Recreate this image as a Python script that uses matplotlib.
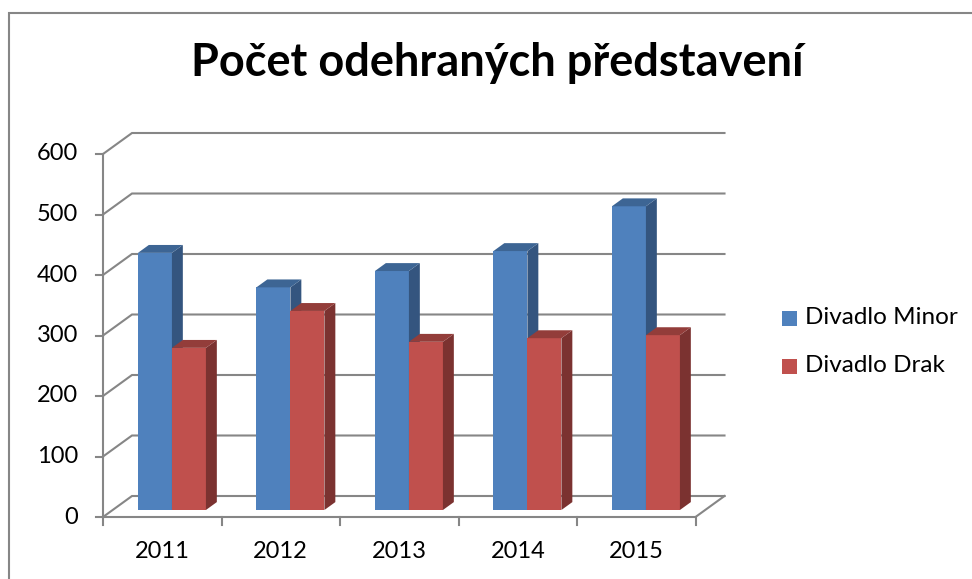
import matplotlib
matplotlib.use("Agg")
import matplotlib.pyplot as plt
from matplotlib.patches import Polygon, Rectangle

title = "Počet odehraných představení"
years = ["2011", "2012", "2013", "2014", "2015"]
series_names = ["Divadlo Minor", "Divadlo Drak"]
minor = [425, 368, 395, 428, 502]
drak = [268, 329, 278, 284, 289]
yticks = [0, 100, 200, 300, 400, 500, 600]

front_cols = ["#4F81BD", "#C0504D"]
side_cols = ["#34557F", "#7B3230"]
top_cols = ["#3D6594", "#933D3A"]
grid_col = "#868686"

W, H = 972, 579
fig = plt.figure(figsize=(W / 100, H / 100), dpi=100)
plt.rcParams['font.family'] = ['Lato', 'DejaVu Sans']

# pixel geometry of plot area
px0, pcat = 103.0, 118.5      # x pixel of category 0, pixels per category
py0, pval = 517.0, 0.605      # y pixel of value 0, pixels per unit
ax_l, ax_r, ax_t, ax_b = 40, 780, 90, 560
ax = fig.add_axes([ax_l / W, 1 - ax_b / H, (ax_r - ax_l) / W, (ax_b - ax_t) / H])
ax.set_xlim((ax_l - px0) / pcat, (ax_r - px0) / pcat)
ax.set_ylim((py0 - ax_b) / pval, (py0 - ax_t) / pval)
ax.axis("off")

DX = 29 / pcat          # depth offset in category units
DY = 21 / pval          # depth offset in value units
n = len(years)
lw = 1.5
fs = 17

# walls / gridlines
for v in yticks:
    ax.plot([0, DX, n + DX], [v, v + DY, v + DY], color=grid_col, lw=lw,
            solid_joinstyle="miter", zorder=1)
    ax.plot([-7 / pcat, 0], [v, v], color=grid_col, lw=lw, zorder=1)
    ax.text((78 - px0) / pcat, v, str(v), ha="right", va="center",
            fontsize=fs, color="black")
# floor front & right edge
ax.plot([0, n, n + DX], [0, 0, DY], color=grid_col, lw=lw, zorder=1)
ax.plot([0, 0], [0, yticks[-1]], color=grid_col, lw=lw, zorder=1)
for k in range(n + 1):
    ax.plot([k, k], [0, -8 / pval], color=grid_col, lw=lw, zorder=1)
for k, y in enumerate(years):
    ax.text(k + 0.5, -34 / pval, y, ha="center", va="center", fontsize=fs)

# bars
d0, d1 = 1 / 3, 0.71
w = 34 / pcat
dd = d1 - d0
for k in range(n):
    c = k + 0.5 + d0 * DX
    for s, vals in enumerate([minor, drak]):
        v = vals[k]
        xl = c - w + s * w
        xr = xl + w
        b = d0 * DY
        t = v + d0 * DY
        ax.bar(xl, v, width=w, bottom=b, align="edge", color=front_cols[s],
               edgecolor="none", zorder=3)
        ax.add_patch(Polygon([(xr, b), (xr + dd * DX, b + dd * DY),
                              (xr + dd * DX, t + dd * DY), (xr, t)],
                             closed=True, facecolor=side_cols[s], edgecolor="none", zorder=3))
        ax.add_patch(Polygon([(xl, t), (xr, t), (xr + dd * DX, t + dd * DY),
                              (xl + dd * DX, t + dd * DY)],
                             closed=True, facecolor=top_cols[s], edgecolor="none", zorder=3))

# title
fig.text(497 / W, 1 - 63 / H, title, ha="center", va="center",
         fontsize=32.5, fontweight="bold")

# legend
for s, name in enumerate(series_names):
    yc = 318 + s * 48
    fig.patches.append(Rectangle((782 / W, 1 - (yc + 7.5) / H), 15 / W, 15 / H,
                                 transform=fig.transFigure, facecolor=front_cols[s],
                                 edgecolor="none"))
    fig.text(805 / W, 1 - yc / H, name, ha="left", va="center", fontsize=17.5)

# chart border
fig.patches.append(Rectangle((9 / W, -0.1), 1.2, 1 - 13 / H + 0.1,
                             transform=fig.transFigure, facecolor="none",
                             edgecolor=grid_col, lw=1.5))

fig.savefig("out.png", dpi=100)
